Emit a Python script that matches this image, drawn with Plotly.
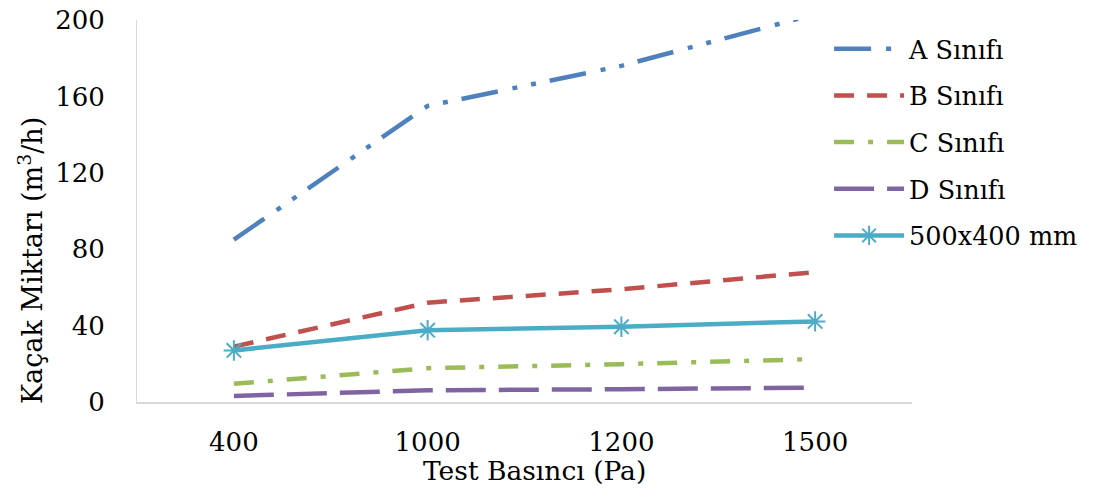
import plotly.graph_objects as go

categories = ["400", "1000", "1200", "1500"]
a_sinifi = [85, 155, 176, 203]
b_sinifi = [29, 52, 59, 68]
c_sinifi = [9.5, 17.7, 19.8, 22.5]
d_sinifi = [3.2, 6.1, 6.7, 7.5]
olcum_500x400 = [27, 37.6, 39.4, 42.2]
y_ticks = [0, 40, 80, 120, 160, 200]

FONT = "DejaVu Serif"

fig = go.Figure()
fig.add_trace(go.Scatter(x=categories, y=a_sinifi, name="A Sınıfı", mode="lines", legendgroup="a",
                         line=dict(color="#4F81BD", width=4.5, dash="37px,15px,5px,14px,5px,14px")))
fig.add_trace(go.Scatter(x=categories, y=b_sinifi, name="B Sınıfı", mode="lines", legendgroup="b",
                         line=dict(color="#C0504D", width=4.5, dash="20px,13px")))
fig.add_trace(go.Scatter(x=categories, y=c_sinifi, name="C Sınıfı", mode="lines", legendgroup="c",
                         line=dict(color="#9BBB59", width=4.5, dash="20px,14px,5px,14px")))
fig.add_trace(go.Scatter(x=categories, y=d_sinifi, name="D Sınıfı", mode="lines", legendgroup="d",
                         line=dict(color="#8064A2", width=4.5, dash="40px,13px")))
fig.add_trace(go.Scatter(x=categories, y=olcum_500x400, name="500x400 mm", mode="lines+markers", legendgroup="e",
                         line=dict(color="#4BACC6", width=4.5),
                         marker=dict(symbol="asterisk-open", size=17, color="#4BACC6",
                                     line=dict(color="#4BACC6", width=2))))

fig.update_layout(
    width=1106, height=492,
    margin=dict(l=137, r=194, t=20, b=90, autoexpand=False),
    plot_bgcolor="white", paper_bgcolor="white",
    font=dict(family=FONT, color="black", size=24),
    showlegend=True,
    legend=dict(x=0.893, y=0.985, xanchor="left", yanchor="top",
                font=dict(family=FONT, size=25.5, color="black"),
                tracegroupgap=10.5, itemwidth=70, bgcolor="rgba(0,0,0,0)"),
    xaxis=dict(type="category", range=[-0.5, 3.5], showgrid=False, zeroline=False,
               showline=True, linecolor="#D9D9D9", linewidth=1.5, ticks="", automargin=False,
               tickfont=dict(family=FONT, size=26, color="black"), ticklabelstandoff=16),
    yaxis=dict(range=[0, 200], tickvals=y_ticks, showgrid=False, zeroline=False,
               showline=True, linecolor="#D9D9D9", linewidth=1, ticks="", automargin=False,
               tickfont=dict(family=FONT, size=26, color="black"), ticklabelstandoff=26),
    annotations=[
        dict(text="Kaçak Miktarı (m<sup>3</sup>/h)", xref="paper", yref="paper",
             x=-0.138, y=0.369, xanchor="center", yanchor="middle", textangle=-90,
             showarrow=False, font=dict(family=FONT, size=27, color="black")),
        dict(text="Test Basıncı (Pa)", xref="paper", yref="paper",
             x=0.5135, y=-0.18, xanchor="center", yanchor="middle",
             showarrow=False, font=dict(family=FONT, size=26.5, color="black")),
    ],
)

fig.write_html("out.html")
